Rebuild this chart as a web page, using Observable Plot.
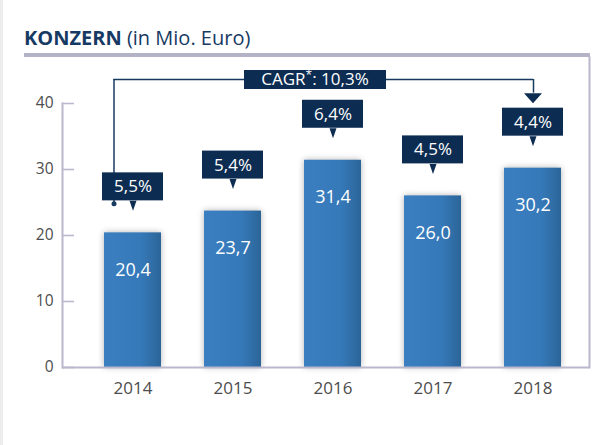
<!DOCTYPE html>
<html><head><meta charset="utf-8">
<script src="https://cdn.jsdelivr.net/npm/d3@7"></script>
<script src="https://cdn.jsdelivr.net/npm/@observablehq/plot@0.6"></script>
<style>
html,body{margin:0;padding:0;background:#fff;}
body{width:604px;height:445px;position:relative;overflow:hidden;font-family:"Open Sans",sans-serif;}
#stripe{position:absolute;left:0;top:0;width:3px;height:445px;background:#ededed;}
#title{margin-left:24px;width:566px;height:27px;padding-top:26px;border-bottom:4px solid #b4b2c6;color:#163a63;font-size:20px;line-height:24px;white-space:nowrap;}
#title b{font-weight:700;}
#chart{position:relative;}
</style></head>
<body>
<div id="stripe"></div>
<div id="title"><b>KONZERN</b> (in Mio. Euro)</div>
<div id="chart"></div>
<script>
const years = ["2014", "2015", "2016", "2017", "2018"];
const revenue = [20.4, 23.7, 31.4, 26.0, 30.2];
const revenueLabels = ["20,4", "23,7", "31,4", "26,0", "30,2"];
const growthLabels = ["5,5%", "5,4%", "6,4%", "4,5%", "4,4%"];
const cagrLabel = "CAGR*: 10,3%";
const cagrFrom = "2014";
const cagrTo = "2018";
const cagrMid = "2016";
const yTicks = [0, 10, 20, 30, 40];

const data = years.map((y, i) => ({year: y, value: revenue[i], label: revenueLabels[i], growth: growthLabels[i]}));
const first = data.find(d => d.year === cagrFrom);
const last = data.find(d => d.year === cagrTo);
const yTop = yTicks[yTicks.length - 1];

const navy = "#0d2c52";
const lineNavy = "#173a60";
const axisGray = "#bab8cc";

const pointer = {draw(ctx) { ctx.moveTo(-3.5, -10); ctx.lineTo(3.5, -10); ctx.lineTo(0, 0); ctx.closePath(); }};
const arrowHead = {draw(ctx) { ctx.moveTo(-9, -10); ctx.lineTo(9, -10); ctx.lineTo(0, 0); ctx.closePath(); }};

const chart = Plot.plot({
  width: 604,
  height: 388,
  marginTop: 46,
  marginBottom: 78,
  marginLeft: 62,
  marginRight: 15,
  style: {fontFamily: "'Open Sans', sans-serif", fontSize: "15px", color: "#4d4d4d", background: "transparent", overflow: "visible"},
  x: {domain: years, paddingInner: 0.43, paddingOuter: 0.347, align: 0.6, label: null},
  y: {domain: [0, yTop], label: null},
  marks: [
    Plot.frame({anchor: "left", stroke: axisGray, strokeWidth: 2}),
    Plot.frame({anchor: "right", stroke: axisGray, strokeWidth: 2, insetTop: -46}),
    Plot.tickY(yTicks, {y: d => d, insetRight: 515, stroke: axisGray, strokeWidth: 1.6}),
    Plot.axisY({ticks: yTicks, tickSize: 0, tickPadding: 9, fontSize: 15.5, fill: "#4d4d4d", tickFormat: d => String(d)}),
    Plot.axisX({tickSize: 0, tickPadding: 14, fontSize: 17, fill: "#4d4d4d"}),
    Plot.barY(data, {x: "year", y: "value", fill: "url(#barGrad)"}),
    Plot.ruleY([0], {stroke: axisGray, strokeWidth: 2}),
    Plot.text(data, {x: "year", y: "value", text: "label", dy: 37, fill: "white", fontSize: 18}),
    // CAGR connector
    Plot.ruleX([first], {x: "year", y1: () => yTop, y2: "value", insetTop: -24, insetBottom: 29, dx: -19, stroke: lineNavy, strokeWidth: 1.5}),
    Plot.dot([first], {x: "year", y: "value", dx: -19, dy: -29, r: 2.5, fill: lineNavy, stroke: "none"}),
    Plot.ruleY([{y: yTop, a: cagrFrom, b: cagrTo}], {y: "y", x1: "a", x2: "b", insetLeft: 9.3, insetRight: 28, dy: -24, stroke: lineNavy, strokeWidth: 1.5}),
    Plot.ruleX([last], {x: "year", y1: () => yTop, y2: "value", insetTop: -24, insetBottom: 75, dx: 0.5, stroke: lineNavy, strokeWidth: 1.5}),
    Plot.dot([last], {x: "year", y: "value", dy: -65, symbol: arrowHead, r: 5, fill: navy, stroke: "none"}),
    Plot.barY([{x: cagrMid, y: yTop}], {x: "x", y1: "y", y2: "y", insetLeft: -60, insetRight: -25, insetTop: -19, dy: -14, fill: navy}),
    Plot.text([{x: cagrMid, y: yTop}], {x: "x", y: "y", text: () => cagrLabel, dx: -18, dy: -24, fill: "white", fontSize: 17}),
    // growth callouts
    Plot.barY(data, {x: "year", y1: "value", y2: "value", insetTop: -28, insetLeft: -2, insetRight: -2, dy: -32, fill: navy}),
    Plot.dot(data, {x: "year", y: "value", dy: -22, symbol: pointer, r: 5, fill: navy, stroke: "none"}),
    Plot.text(data, {x: "year", y: "value", text: "growth", dy: -46, fill: "white", fontSize: 17})
  ]
});

const svg = d3.select(chart);
const defs = svg.insert("defs", ":first-child");
const grad = defs.append("linearGradient").attr("id", "barGrad").attr("x1", "0").attr("x2", "1").attr("y1", "0").attr("y2", "0");
grad.append("stop").attr("offset", "0").attr("stop-color", "#3b7fc1");
grad.append("stop").attr("offset", "0.65").attr("stop-color", "#3679b9");
grad.append("stop").attr("offset", "1").attr("stop-color", "#2b6598");
const barGroups = chart.querySelectorAll('g[aria-label="bar"]');
if (barGroups.length) barGroups[0].style.filter = "drop-shadow(0 0 3px rgba(0,0,0,0.3))";
// superscript asterisk in the CAGR label
svg.selectAll("text").each(function() {
  if (this.textContent === cagrLabel) {
    const parts = cagrLabel.split("*");
    const t = d3.select(this);
    t.text(null);
    t.append("tspan").text(parts[0]);
    t.append("tspan").attr("dy", "-6").attr("font-size", "12").text("*");
    t.append("tspan").attr("dy", "6").text(parts[1]);
  }
});
document.getElementById("chart").appendChild(chart);
</script>
</body></html>
